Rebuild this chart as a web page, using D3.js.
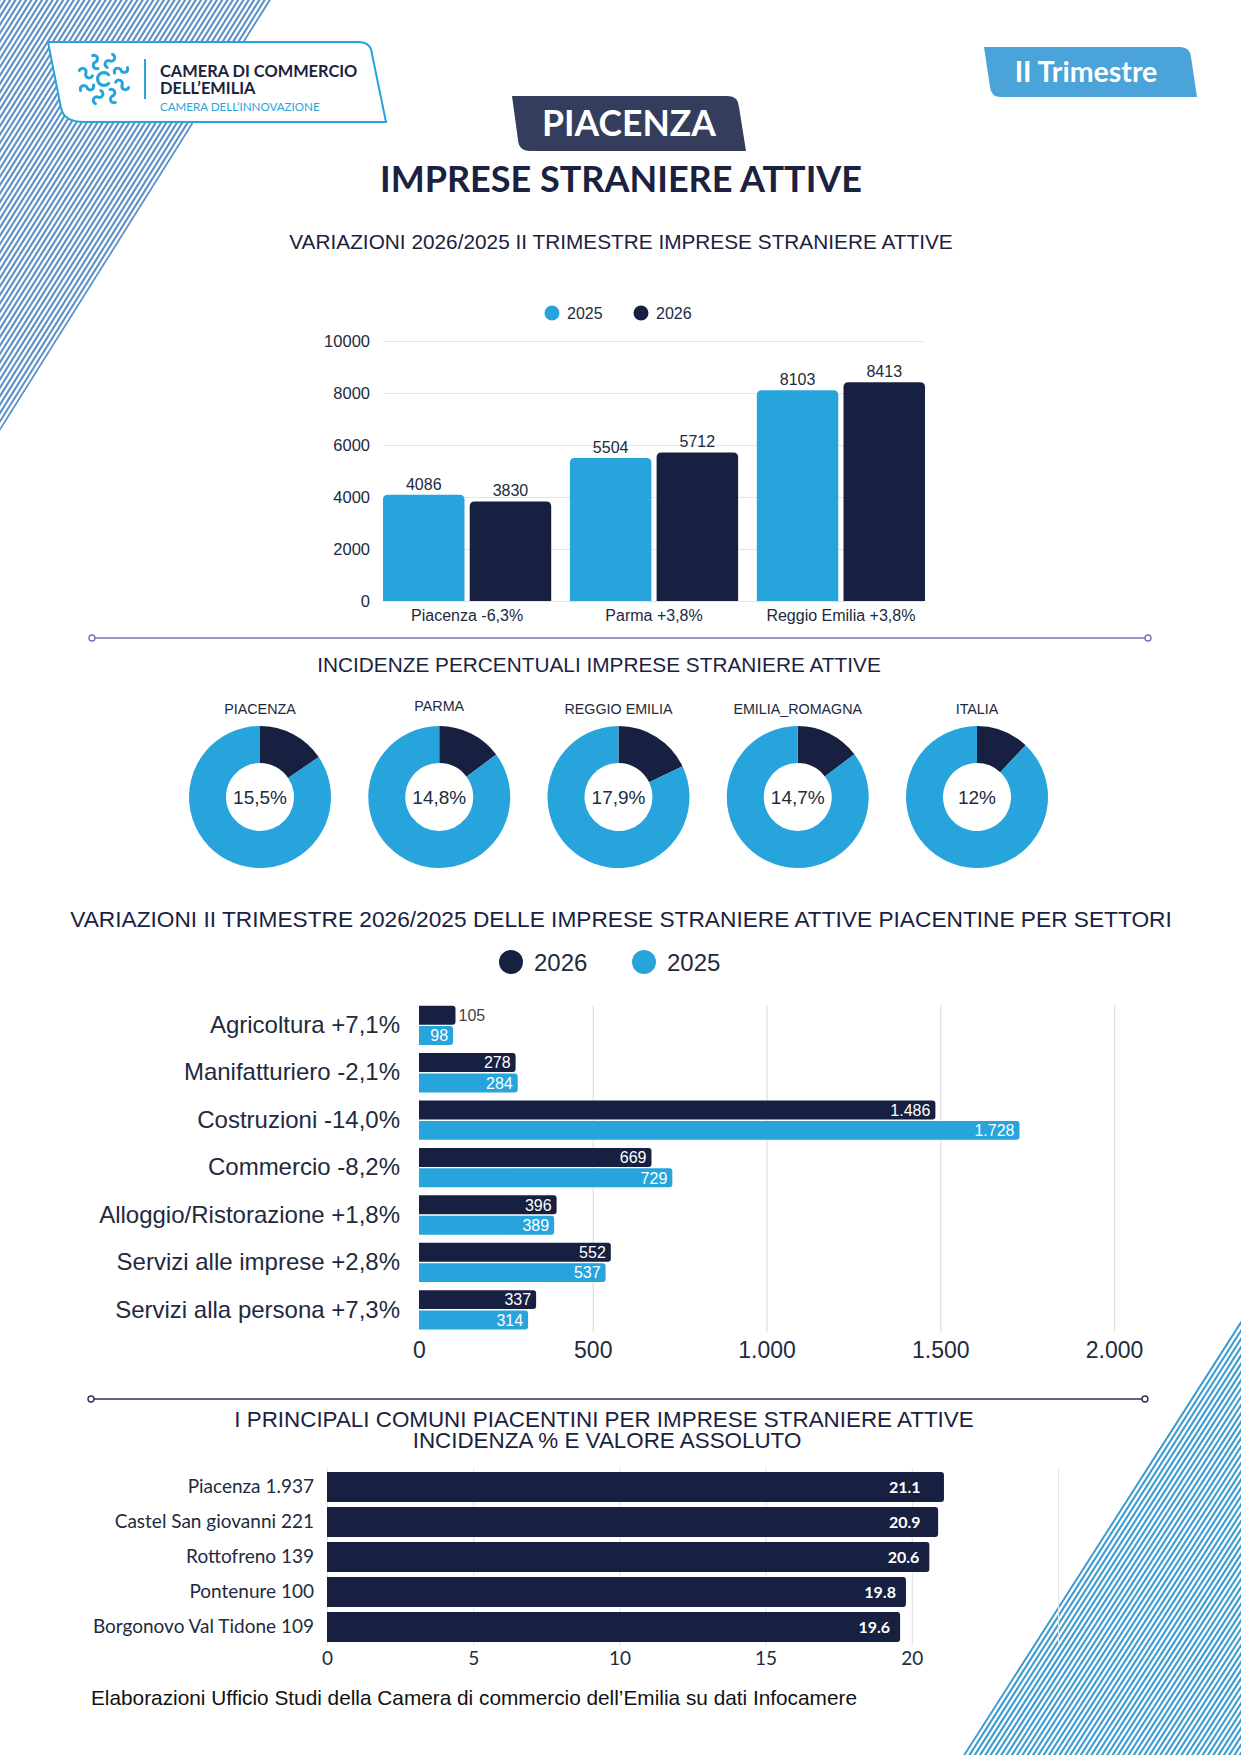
<!DOCTYPE html>
<html><head><meta charset="utf-8">
<script src="https://cdn.jsdelivr.net/npm/d3@7/dist/d3.min.js"></script>
<style>body{margin:0;background:#fff} svg{display:block}</style>
</head><body>
<script>
// ---------------- DATA ----------------
const provinces = ["Piacenza -6,3%", "Parma +3,8%", "Reggio Emilia +3,8%"];
const years1 = ["2025", "2026"];
const vals2025 = [4086, 5504, 8103];
const vals2026 = [3830, 5712, 8413];
const yTicks1 = [0, 2000, 4000, 6000, 8000, 10000];

const donutNames = ["PIACENZA", "PARMA", "REGGIO EMILIA", "EMILIA_ROMAGNA", "ITALIA"];
const donutPct = [15.5, 14.8, 17.9, 14.7, 12];
const donutLabels = ["15,5%", "14,8%", "17,9%", "14,7%", "12%"];

const sectors = ["Agricoltura +7,1%", "Manifatturiero -2,1%", "Costruzioni -14,0%", "Commercio -8,2%",
  "Alloggio/Ristorazione +1,8%", "Servizi alle imprese +2,8%", "Servizi alla persona +7,3%"];
const years3 = ["2026", "2025"];
const sect2026 = [105, 278, 1486, 669, 396, 552, 337];
const sect2025 = [98, 284, 1728, 729, 389, 537, 314];
const xTicks3 = [0, 500, 1000, 1500, 2000];

const comuni = ["Piacenza 1.937", "Castel San giovanni 221", "Rottofreno 139", "Pontenure 100", "Borgonovo Val Tidone 109"];
const comuniPct = [21.1, 20.9, 20.6, 19.8, 19.6];
const xTicks4 = [0, 5, 10, 15, 20];
const xGrid4 = [0, 5, 10, 15, 20, 25];

// ---------------- STYLE ----------------
const W = 1241, H = 1755;
const NAVY = "#172040", LIGHT = "#28a4dd", TXT = "#222a40";
const SANS = "'Liberation Sans', Arial, sans-serif", LATO = "Lato, 'Open Sans', sans-serif";
const itFmt = d3.formatLocale({decimal: ",", thousands: ".", grouping: [3], currency: ["€", ""]}).format(",d");

const svg = d3.select("body").append("svg").attr("width", W).attr("height", H);
const defs = svg.append("defs");

// ---------------- DECORATIVE STRIPES ----------------
function stripes(id, poly, color, step, sw, dir, anchorY) {
  defs.append("clipPath").attr("id", id).append("polygon").attr("points", poly.map(p => p.join(",")).join(" "));
  const g = svg.append("g").attr("clip-path", `url(#${id})`);
  const xs = d3.range(-700, 1900, step);
  g.selectAll("line").data(xs).join("line")
    .attr("x1", x => x + dir[0] * 3).attr("y1", anchorY + dir[1] * 3)
    .attr("x2", x => x - dir[0] * 3).attr("y2", anchorY - dir[1] * 3)
    .attr("stroke", color).attr("stroke-width", sw);
}
stripes("clipTL", [[0, 0], [271, 0], [0, 431]], "#5b8fc8", 5.3, 2.1, [-270, 430], 0);
stripes("clipBR", [[1241, 1320], [1241, 1755], [963, 1755]], "#3a9bd0", 5.3, 2.1, [-277, 433], 1755);

// ---------------- HEADER ----------------
svg.append("path").attr("d", "M48,42 L358,42 Q371,42 372,54 L386,122 L84,122 Q64,122 61,108 Z")
  .attr("fill", "#fff").attr("stroke", "#29a3dc").attr("stroke-width", 2);
const icon = svg.append("g").attr("transform", "translate(104,79)");
d3.range(8).forEach(i => {
  const a = i * 45 + 22.5;
  icon.append("path")
    .attr("d", "M-7,1.5 a3.5,3.5 0 1 1 7,0 a3.5,3.5 0 1 0 7,0")
    .attr("transform", `rotate(${a}) translate(0,-19) rotate(90)`)
    .attr("fill", "none").attr("stroke", "#29a3dc").attr("stroke-width", 3).attr("stroke-linecap", "round");
});
icon.append("path").attr("d", "M4.5,-4.5 A6.4,6.4 0 1 0 4.5,4.5")
  .attr("fill", "none").attr("stroke", "#29a3dc").attr("stroke-width", 3.2).attr("stroke-linecap", "round");
svg.append("line").attr("x1", 145).attr("x2", 145).attr("y1", 59).attr("y2", 99).attr("stroke", "#29a3dc").attr("stroke-width", 2);
const logoT = svg.append("text").attr("font-family", LATO).attr("font-weight", 700).attr("font-size", 16.4).attr("fill", "#1b2340");
logoT.append("tspan").attr("x", 160).attr("y", 77).text("CAMERA DI COMMERCIO");
logoT.append("tspan").attr("x", 160).attr("y", 94).text("DELL’EMILIA");
svg.append("text").attr("x", 160).attr("y", 111).text("CAMERA DELL’INNOVAZIONE")
  .attr("font-family", LATO).attr("font-size", 11.6).attr("fill", "#29a3dc");

// II Trimestre tag
svg.append("path").attr("d", "M984,47 L1180,47 Q1190,47 1191,57 L1197,97 L1001,97 Q991,97 990,87 Z").attr("fill", "#4aa3d9");
svg.append("text").attr("x", 1086).attr("y", 82).attr("text-anchor", "middle").text("II Trimestre")
  .attr("font-family", LATO).attr("font-weight", 700).attr("font-size", 28.5).attr("fill", "#fff");

// PIACENZA tag
svg.append("path").attr("d", "M512,96 L728,96 Q738,96 739,107 L746,151 L530,151 Q519,151 518,140 Z").attr("fill", "#353d5c");
svg.append("text").attr("x", 629).attr("y", 136).attr("text-anchor", "middle").text("PIACENZA")
  .attr("font-family", LATO).attr("font-weight", 700).attr("font-size", 35.5).attr("fill", "#fff");
svg.append("text").attr("x", 621).attr("y", 192).attr("text-anchor", "middle").text("IMPRESE STRANIERE ATTIVE")
  .attr("font-family", LATO).attr("font-weight", 700).attr("font-size", 36).attr("fill", "#1b2240");

function title(lines, x, y, size, lh) {
  const t = svg.append("text").attr("text-anchor", "middle")
    .attr("font-family", SANS).attr("font-size", size).attr("fill", "#1b2240");
  lines.forEach((l, i) => t.append("tspan").attr("x", x[i] !== undefined ? x[i] : x).attr("y", y + i * (lh || 0)).text(l));
}
function separator(y, x1, x2, color) {
  svg.append("line").attr("x1", x1 + 3).attr("x2", x2 - 3).attr("y1", y).attr("y2", y).attr("stroke", color).attr("stroke-width", 1.6);
  [x1, x2].forEach(x => svg.append("circle").attr("cx", x).attr("cy", y).attr("r", 3).attr("fill", "#fff").attr("stroke", color).attr("stroke-width", 1.4));
}
function topRounded(x, y, w, h, r) {
  r = Math.min(r, w / 2, h);
  return `M${x},${y + h} L${x},${y + r} Q${x},${y} ${x + r},${y} L${x + w - r},${y} Q${x + w},${y} ${x + w},${y + r} L${x + w},${y + h} Z`;
}
function rightRounded(x, y, w, h, r) {
  r = Math.min(r, w / 2, h / 2);
  return `M${x},${y} L${x + w - r},${y} Q${x + w},${y} ${x + w},${y + r} L${x + w},${y + h - r} Q${x + w},${y + h} ${x + w - r},${y + h} L${x},${y + h} Z`;
}
function styleAxis(g, size, family) {
  g.select(".domain").remove();
  g.selectAll("text").attr("font-family", family || SANS).attr("font-size", size).attr("fill", TXT);
}

// ---------------- CHART 1: vertical grouped bars ----------------
title(["VARIAZIONI 2026/2025 II TRIMESTRE IMPRESE STRANIERE ATTIVE"], [621], 249, 20.8);
const c1 = d3.scaleOrdinal().domain(years1).range([LIGHT, NAVY]);
const x1 = d3.scaleBand().domain(provinces).range([383, 925]).paddingInner(0.1).paddingOuter(0);
const x1in = d3.scaleBand().domain(years1).range([0, x1.bandwidth()]).paddingInner(0.06);
const y1 = d3.scaleLinear().domain([0, 10000]).range([601, 341]);
const g1 = svg.append("g");
g1.append("g").attr("transform", "translate(383,0)")
  .call(d3.axisLeft(y1).tickValues(yTicks1).tickSize(-540).tickPadding(13).tickFormat(d3.format("d")))
  .call(g => { styleAxis(g, 16.5); g.selectAll("line").attr("stroke", "#e3e3e6"); });
g1.append("g").attr("transform", "translate(0,601)")
  .call(d3.axisBottom(x1).tickSize(0).tickPadding(8.5))
  .call(g => styleAxis(g, 16));
const rows1 = provinces.map((p, i) => ({p, vals: [{k: "2025", v: vals2025[i]}, {k: "2026", v: vals2026[i]}]}));
const grp1 = g1.selectAll("g.grp").data(rows1).join("g").attr("class", "grp").attr("transform", d => `translate(${x1(d.p)},0)`);
grp1.selectAll("path").data(d => d.vals).join("path")
  .attr("d", d => topRounded(x1in(d.k), y1(d.v), x1in.bandwidth(), y1(0) - y1(d.v), 5))
  .attr("fill", d => c1(d.k));
grp1.selectAll("text").data(d => d.vals).join("text")
  .attr("x", d => x1in(d.k) + x1in.bandwidth() / 2).attr("y", d => y1(d.v) - 5)
  .attr("text-anchor", "middle").text(d => d.v)
  .attr("font-family", SANS).attr("font-size", 16).attr("fill", TXT);
const lg1 = g1.selectAll("g.lg").data(years1).join("g").attr("class", "lg").attr("transform", (d, i) => `translate(${552 + i * 89},313)`);
lg1.append("circle").attr("r", 7.5).attr("fill", d => c1(d));
lg1.append("text").attr("x", 15).attr("y", 5.5).text(d => d).attr("font-family", SANS).attr("font-size", 16).attr("fill", TXT);

separator(638, 92, 1148, "#7a72b0");

// ---------------- CHART 2: donuts ----------------
title(["INCIDENZE PERCENTUALI IMPRESE STRANIERE ATTIVE"], [599], 672, 20.8);
const xd = d3.scalePoint().domain(donutNames).range([260, 977]);
const pie = d3.pie().sort(null).value(d => d);
const arc = d3.arc().innerRadius(34).outerRadius(71);
donutNames.forEach((n, i) => {
  const g = svg.append("g").attr("transform", `translate(${xd(n)},797)`);
  g.selectAll("path").data(pie([donutPct[i], 100 - donutPct[i]])).join("path")
    .attr("d", arc).attr("fill", (d, j) => j === 0 ? NAVY : LIGHT);
  g.append("text").attr("y", 7).attr("text-anchor", "middle").text(donutLabels[i])
    .attr("font-family", SANS).attr("font-size", 19).attr("fill", TXT);
  g.append("text").attr("y", n === "PARMA" ? -86 : -83).attr("text-anchor", "middle").text(n)
    .attr("font-family", SANS).attr("font-size", 14.3).attr("fill", TXT);
});

// ---------------- CHART 3: horizontal grouped bars ----------------
title(["VARIAZIONI II TRIMESTRE 2026/2025 DELLE IMPRESE STRANIERE ATTIVE PIACENTINE PER SETTORI"], [621], 927, 22.7);
const c3 = d3.scaleOrdinal().domain(years3).range([NAVY, LIGHT]);
const lg3 = svg.selectAll("g.lg3").data(years3).join("g").attr("class", "lg3").attr("transform", (d, i) => `translate(${511 + i * 133},962)`);
lg3.append("circle").attr("r", 12).attr("fill", d => c3(d));
lg3.append("text").attr("x", 23).attr("y", 8.5).text(d => d).attr("font-family", SANS).attr("font-size", 24).attr("fill", TXT);

const x3 = d3.scaleLinear().domain([0, 2000]).range([419, 1114]);
const y3 = d3.scaleBand().domain(sectors).range([1005.7, 1329.5]).paddingInner(0.17).paddingOuter(0);
const y3in = d3.scaleBand().domain(years3).range([0, y3.bandwidth()]).paddingInner(0.07);
const g3 = svg.append("g");
g3.append("g").attr("transform", "translate(0,1332)")
  .call(d3.axisBottom(x3).tickValues(xTicks3).tickSize(-327).tickPadding(10).tickFormat(itFmt))
  .call(g => { styleAxis(g, 23); g.selectAll("line").attr("stroke", d => d === 0 ? "none" : "#e0e0e4").attr("stroke-width", 1.2); });
g3.append("g").attr("transform", "translate(419,0)")
  .call(d3.axisLeft(y3).tickSize(0).tickPadding(19))
  .call(g => styleAxis(g, 24));
const rows3 = sectors.map((s, i) => ({s, vals: [{k: "2026", v: sect2026[i]}, {k: "2025", v: sect2025[i]}]}));
const grp3 = g3.selectAll("g.grp").data(rows3).join("g").attr("class", "grp").attr("transform", d => `translate(0,${y3(d.s)})`);
grp3.selectAll("path").data(d => d.vals).join("path")
  .attr("d", d => rightRounded(x3(0), y3in(d.k), x3(d.v) - x3(0), y3in.bandwidth(), 3))
  .attr("fill", d => c3(d.k));
grp3.selectAll("text").data(d => d.vals).join("text")
  .attr("y", d => y3in(d.k) + y3in.bandwidth() / 2 + 5.8)
  .text(d => itFmt(d.v))
  .attr("font-family", SANS).attr("font-size", 16)
  .each(function (d) {
    const t = d3.select(this);
    const tw = this.getComputedTextLength();
    const bw = x3(d.v) - x3(0);
    if (bw < tw + 12) t.attr("x", x3(d.v) + 3).attr("text-anchor", "start").attr("fill", "#444");
    else t.attr("x", x3(d.v) - 5).attr("text-anchor", "end").attr("fill", "#fff");
  });

separator(1399, 91, 1145, "#2c3252");

// ---------------- CHART 4: comuni ----------------
title(["I PRINCIPALI COMUNI PIACENTINI PER IMPRESE STRANIERE ATTIVE", "INCIDENZA % E VALORE ASSOLUTO"], [604, 607], 1426.5, 22.4, 21.5);
const x4 = d3.scaleLinear().domain([0, 25]).range([327, 1058]);
const y4 = d3.scaleBand().domain(comuni).range([1469.5, 1644.5]).paddingInner(0.143).paddingOuter(0.0715);
const g4 = svg.append("g");
g4.append("g").attr("transform", "translate(0,1646)")
  .call(d3.axisBottom(x4).tickValues(xGrid4).tickSize(-178).tickFormat(""))
  .call(g => { g.select(".domain").remove(); g.selectAll("line").attr("stroke", "#e6e6e9").attr("stroke-width", 1.2); });
g4.append("g").attr("transform", "translate(0,1646)")
  .call(d3.axisBottom(x4).tickValues(xTicks4).tickSize(0).tickPadding(5))
  .call(g => styleAxis(g, 19, LATO));
g4.append("g").attr("transform", "translate(327,0)")
  .call(d3.axisLeft(y4).tickSize(0).tickPadding(13))
  .call(g => styleAxis(g, 19, LATO));
const rows4 = comuni.map((c, i) => ({c, v: comuniPct[i]}));
g4.selectAll("path.bar").data(rows4).join("path").attr("class", "bar")
  .attr("d", d => rightRounded(x4(0), y4(d.c), x4(d.v) - x4(0), y4.bandwidth(), 3))
  .attr("fill", NAVY);
g4.selectAll("text.val").data(rows4).join("text").attr("class", "val")
  .attr("x", d => Math.min(x4(d.v) - 10, x4(20.3)))
  .attr("y", d => y4(d.c) + y4.bandwidth() / 2 + 5.5)
  .attr("text-anchor", "end").text(d => d3.format(".1f")(d.v))
  .attr("font-family", LATO).attr("font-weight", 700).attr("font-size", 16).attr("fill", "#fff");

// ---------------- FOOTER ----------------
svg.append("text").attr("x", 91).attr("y", 1705).text("Elaborazioni Ufficio Studi della Camera di commercio dell’Emilia su dati Infocamere")
  .attr("font-family", SANS).attr("font-size", 20.8).attr("fill", "#111");
</script>
</body></html>
